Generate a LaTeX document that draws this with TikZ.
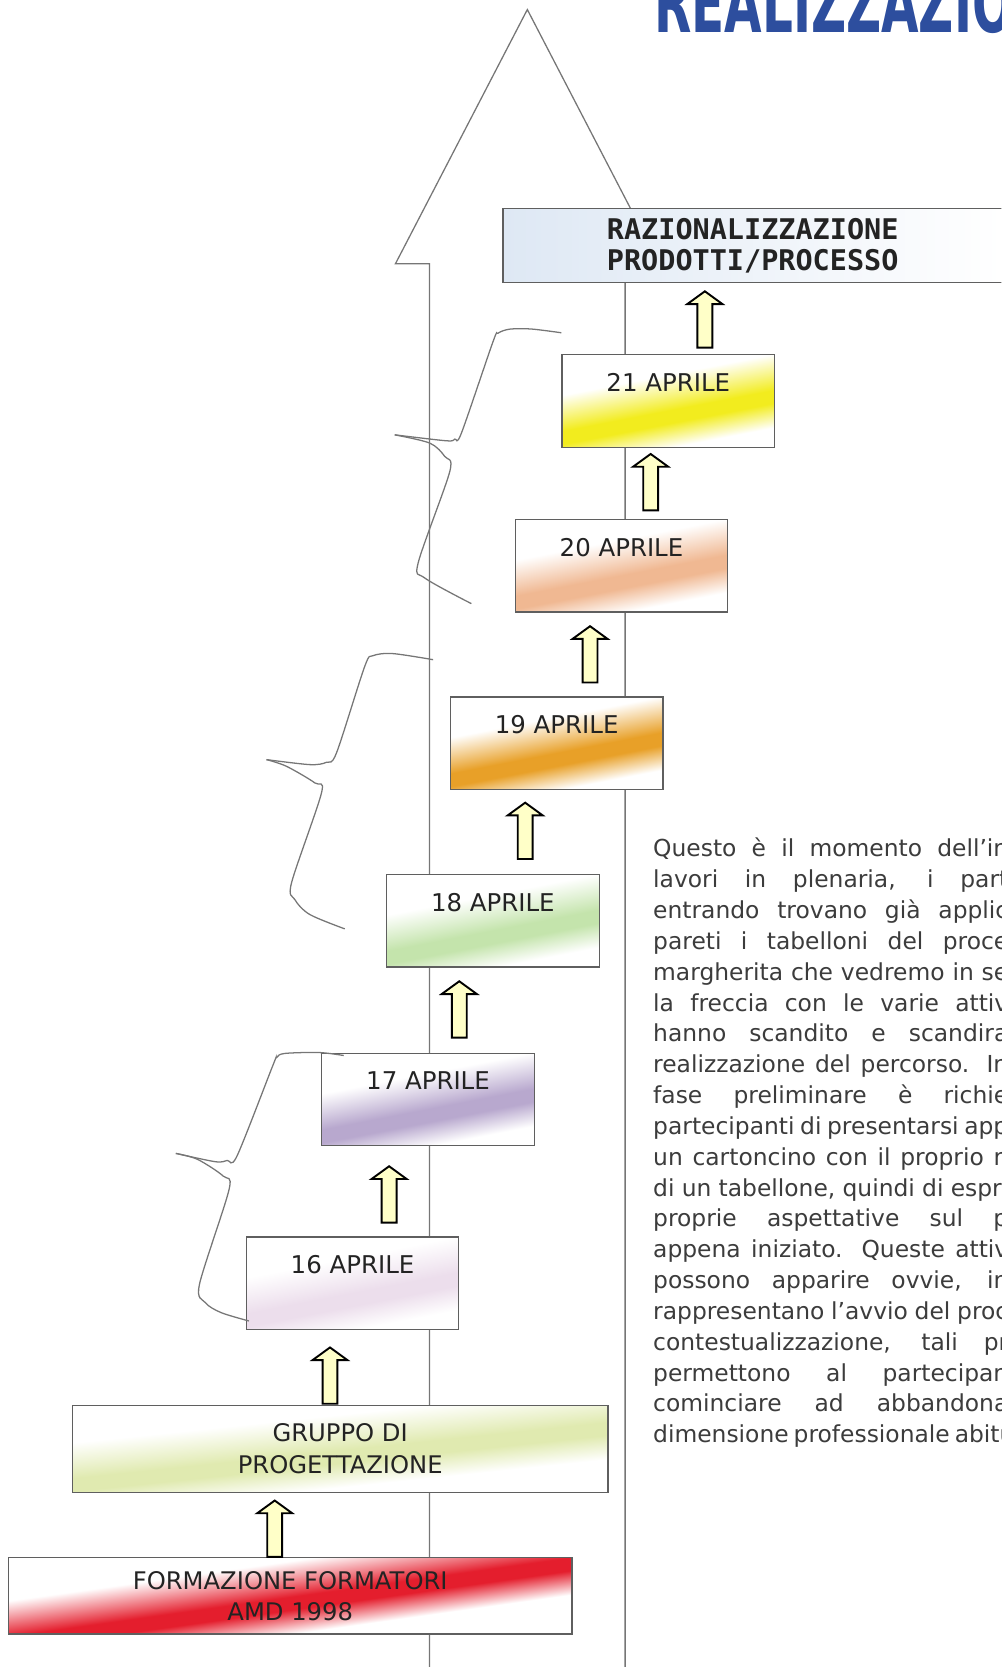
\documentclass[tikz,border=0pt]{standalone}
\usepackage{fontspec}
\usepackage{graphicx}
\setmainfont{DejaVu Sans}
\newfontfamily\razfont{DejaVu Sans Mono}
\usepackage{tikz}

\definecolor{outline}{RGB}{118,118,118}
\definecolor{boxline}{RGB}{95,95,95}
\definecolor{boxtext}{RGB}{35,35,35}
\definecolor{bodytext}{RGB}{60,60,60}
\definecolor{arrfill}{RGB}{255,255,200}
\definecolor{titleblue}{RGB}{45,78,158}
\definecolor{craz}{RGB}{222,232,244}
\definecolor{c21}{RGB}{242,236,30}
\definecolor{c20}{RGB}{240,184,146}
\definecolor{c19}{RGB}{232,160,40}
\definecolor{c18}{RGB}{196,228,172}
\definecolor{c17}{RGB}{184,168,206}
\definecolor{c16}{RGB}{236,222,236}
\definecolor{cgruppo}{RGB}{224,234,176}
\definecolor{cform}{RGB}{228,30,45}

% narrow colour band, laid over a big square so it keeps its angle
\colorlet{bandc}{white}
\pgfdeclareverticalshading[bandc]{band}{100bp}{color(0bp)=(white); color(47.5bp)=(white);
  color(49.4bp)=(bandc); color(50.4bp)=(bandc); color(53.2bp)=(white); color(100bp)=(white)}

\tikzstyle{shell} = [draw=outline, line width=0.6pt]
\tikzstyle{brace} = [draw=outline, line width=0.6pt]
\tikzstyle{topbox} = [draw=boxline, line width=0.6pt, left color=craz, right color=white,
                      inner sep=0pt, text=boxtext]
\tikzset{stepbox/.style={draw=boxline, line width=0.6pt, fill=white, inner sep=0pt, text=boxtext,
           path picture={\colorlet{bandc}{#1}
             \shade[shading=band, shading angle=\bandtilt]
             ([shift={(-150pt,-150pt-\bandlow)}]path picture bounding box.center) rectangle
             ([shift={(150pt,150pt-\bandlow)}]path picture bounding box.center);}},
         daybox/.style={stepbox=#1, anchor=north west, minimum width=100pt,
                        text height=17.25pt, text depth=26.25pt,
                        font=\fontsize{11.5}{13}\selectfont},
         uparr/.pic={\draw[fill=arrfill, line width=0.9pt, line join=miter]
                      (-7,0) -- (-7,-41) -- (-16.5,-41) -- (0,-53) -- (16.5,-41) -- (7,-41) -- (7,0) -- cycle;}}
\newcommand{\bandtilt}{11}
\newcommand{\bandlow}{7pt}

\newcommand{\justline}[1]{\makebox[167pt][s]{#1}}

\begin{document}
\begin{tikzpicture}[x=0.5pt, y=-0.5pt]
  \useasboundingbox (0,0) rectangle (942,1568);
  \clip (0,0) rectangle (942,1568);

  % big arrow behind everything
  \draw[shell] (404,1580) -- (404,248) -- (372,248) -- (496,9) -- (620,248) -- (588,248) -- (588,1580);

  \node[anchor=base west, inner sep=0pt, text=titleblue,
        font=\bfseries\fontsize{38}{38}\selectfont] (title) at (615,31) {\scalebox{0.6}[1]{REALIZZAZIO}};

  \node[topbox, minimum width=235pt, minimum height=35pt, align=center,
        font=\razfont\bfseries\fontsize{13.4}{14.5}\selectfont] (razio) at (708,231)
        {RAZIONALIZZAZIONE\\PRODOTTI/PROCESSO};

  \node[daybox=c21] (d21) at (528,333) {21 APRILE};
  \node[daybox=c20] (d20) at (484,488) {20 APRILE};
  \node[daybox=c19] (d19) at (423,655) {19 APRILE};
  \node[daybox=c18] (d18) at (363,822) {18 APRILE};
  \node[daybox=c17] (d17) at (302,990) {17 APRILE};
  \node[daybox=c16] (d16) at (231,1163) {16 APRILE};

  \renewcommand{\bandtilt}{6}
  \renewcommand{\bandlow}{3pt}
  \node[stepbox=cgruppo, minimum width=252pt, minimum height=41pt, align=center,
        font=\fontsize{11.4}{15}\selectfont] (gruppo) at (320,1363) {GRUPPO DI\\PROGETTAZIONE};
  \renewcommand{\bandtilt}{8}
  \node[stepbox=cform, minimum width=265pt, minimum height=36pt, align=center,
        font=\fontsize{11.4}{14.5}\selectfont] (formaz) at (273,1501) {FORMAZIONE FORMATORI\\AMD 1998};

  % block arrows between the steps
  \path (d21.north west) ++(135,-6) pic {uparr};
  \path (d20.north west) ++(128,-8) pic {uparr};
  \path (d19.north west) ++(132,-13) pic {uparr};
  \path (d18.north west) ++(131,-14) pic {uparr};
  \path (d17.north west) ++(130,-14) pic {uparr};
  \path (d16.north west) ++(135,-13) pic {uparr};
  \path (gruppo.north west) ++(243,-1) pic {uparr};
  \path (formaz.north west) ++(251,0) pic {uparr};

  % hand drawn braces
  \draw[brace] plot[smooth] coordinates {(528,313) (500,309.5) (479.5,309.6) (468.5,313.4) (463.8,321.2)
    (434,407.4) (427.8,413) (419.9,414.6) (371.3,409)};
  \draw[brace] plot[smooth] coordinates {(371.3,409) (404.3,416.8) (418.3,429.3) (423.1,443.4)
    (393.3,529.6) (399.6,543.7) (443.4,567.8)};
  \draw[brace] plot[smooth] coordinates {(407.4,620.5) (369.8,614.8) (351,616.7) (343.1,626.7)
    (316.5,708.2) (307.1,717) (291.4,719.2) (250.7,714.5)};
  \draw[brace] plot[smooth] coordinates {(250.7,714.5) (269.5,720.8) (296.1,736.4) (302.4,745.8)
    (274.2,830.4) (277.3,846.1) (291.4,860.2) (324.3,873.7)};
  \draw[brace] plot[smooth] coordinates {(323.3,992.8) (300,990) (267.5,990.9) (260.1,994.9) (256.4,1002.8)
    (222.9,1087.4) (213.7,1091.5) (202.5,1092.7) (165.4,1084.9)};
  \draw[brace] plot[smooth] coordinates {(165.4,1084.9) (185.8,1090.5) (209.9,1106.2) (215.5,1118.7)
    (187.6,1208.1) (193.2,1225.3) (208.1,1234.7) (234.1,1242.5)};

  \node[anchor=north west, inner sep=0pt, align=left, text=bodytext,
        font=\fontsize{11}{14.5}\selectfont] (testo) at (614,788) {%
    \justline{Questo è il momento dell’in}\\
    \justline{lavori in plenaria, i part}\\
    \justline{entrando trovano già applic}\\
    \justline{pareti i tabelloni del proce}\\
    \justline{margherita che vedremo in se}\\
    \justline{la freccia con le varie attiv}\\
    \justline{hanno scandito e scandira}\\
    \justline{realizzazione del percorso. In}\\
    \justline{fase preliminare è richie}\\
    \justline{partecipanti di presentarsi app}\\
    \justline{un cartoncino con il proprio n}\\
    \justline{di un tabellone, quindi di espri}\\
    \justline{proprie aspettative sul p}\\
    \justline{appena iniziato. Queste attiv}\\
    \justline{possono apparire ovvie, in}\\
    \justline{rappresentano l’avvio del proc}\\
    \justline{contestualizzazione, tali pr}\\
    \justline{permettono al partecipan}\\
    \justline{cominciare ad abbandona}\\
    \justline{dimensione professionale abitu}};
\end{tikzpicture}
\end{document}
